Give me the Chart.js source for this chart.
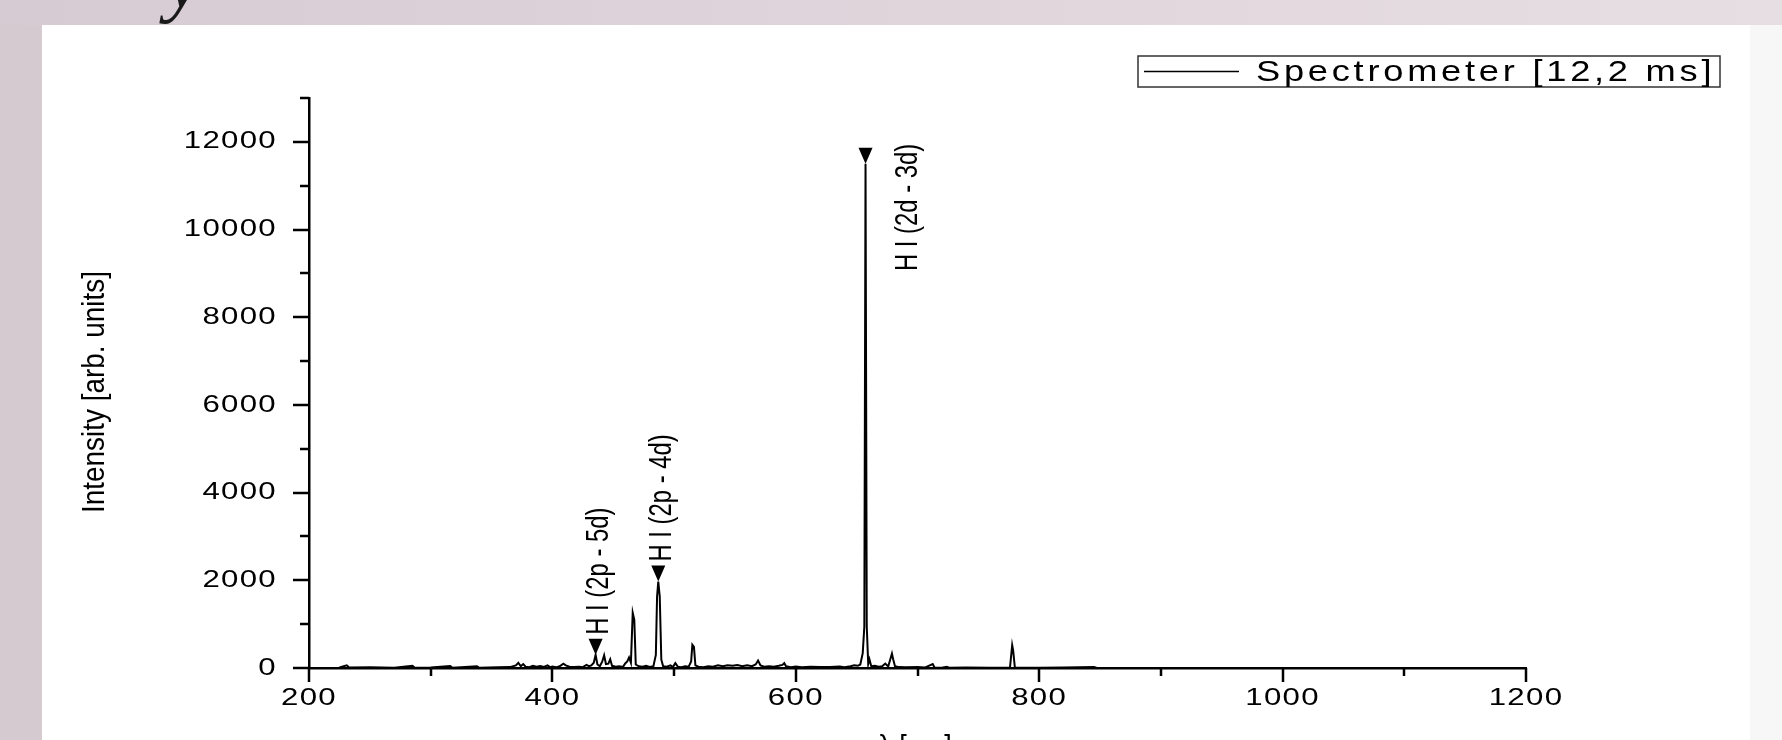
<!DOCTYPE html>
<html>
<head>
<meta charset="utf-8">
<script src="https://cdn.jsdelivr.net/npm/chart.js@4.4.0/dist/chart.umd.min.js"></script>
<style>
html, body { margin: 0; padding: 0; }
body { width: 1782px; height: 740px; overflow: hidden; position: relative;
       background: linear-gradient(to right, #d7cbd3, #e7dee3); }
#left { position: absolute; left: 0; top: 25px; width: 42px; height: 715px; background: #d6cad1; }
#panel { position: absolute; left: 42px; top: 25px; width: 1708px; height: 715px; background: #fff; }
#right { position: absolute; left: 1750px; top: 25px; width: 32px; height: 715px; background: #f7f7f7; }
#glyph { position: absolute; left: 166px; top: -60px; font: italic 80px "Liberation Serif"; line-height: 1; color: #1a1a1a; }
canvas { position: absolute; left: 0; top: 0; }
</style>
</head>
<body>
<div id="left"></div>
<div id="panel"></div>
<div id="right"></div>
<div id="glyph">y</div>
<canvas id="spectrum-Chart" width="1782" height="740"></canvas>
<script>
// spectrum (nm, arb. units)
const wavelengths = [
  225, 231, 233, 250, 270, 285, 287, 300, 316, 318, 338, 340, 355, 365, 370, 372, 374, 376, 378, 381,
  384, 387, 390, 393, 396, 398, 400, 403, 406, 409, 411, 414, 418, 422, 425, 428, 430, 432, 434, 435.5,
  437, 439, 441, 442.5, 444, 446, 447.5, 449, 452, 455, 458, 460, 461.5, 463, 464.5, 466, 467.3, 468.5, 471, 474,
  477, 480, 483, 485, 486, 487, 488.2, 489.5, 491, 494, 497, 499, 501, 503, 506, 509, 512, 514, 515, 516.3,
  517.5, 520, 524, 528, 532, 536, 540, 544, 548, 552, 556, 560, 564, 567, 569, 571, 574, 578, 582, 586,
  589, 590.5, 592, 596, 600, 605, 612, 620, 628, 636, 640, 645, 648, 651, 653, 655, 656.3, 657.3, 658.3, 659.5,
  660.5, 662, 665, 668, 671, 673.5, 675, 676, 679, 680, 681.5, 685, 690, 700, 706, 712.5, 714, 720, 724, 726,
  740, 760, 776, 777.8, 778.6, 780, 800, 820, 845, 847, 850
];
const intensities = [
  10, 60, 10, 15, 5, 50, 5, 10, 45, 5, 40, 5, 15, 20, 60, 120, 40, 90, 30, 20,
  50, 30, 45, 25, 60, 20, 35, 15, 40, 100, 60, 30, 25, 30, 20, 70, 40, 60, 120, 300,
  80, 40, 150, 290, 90, 100, 200, 50, 30, 40, 25, 110, 150, 240, 120, 1260, 1100, 80, 40, 30,
  50, 25, 40, 300, 1630, 1970, 1630, 190, 40, 30, 60, 20, 110, 30, 20, 40, 30, 150, 530, 480,
  60, 30, 20, 40, 30, 60, 40, 60, 50, 70, 40, 60, 40, 80, 170, 60, 30, 40, 30, 50,
  70, 110, 40, 20, 35, 15, 30, 20, 25, 35, 20, 40, 60, 50, 80, 340, 940, 11500, 950, 90,
  200, 40, 50, 30, 40, 100, 60, 40, 330, 200, 40, 20, 15, 20, 10, 90, 10, 5, 30, 5,
  10, 5, 10, 520, 400, 10, 5, 10, 25, 5, 0
];

const xTickLabels = [200, 400, 600, 800, 1000, 1200];
const yTickLabels = [0, 2000, 4000, 6000, 8000, 10000, 12000];

const lineNames = ["H I (2p - 5d)", "H I (2p - 4d)", "H I (2d - 3d)"];
const lineWavelengths = [435.5, 487, 657.3];

const seriesName = "Spectrometer [12,2 ms]";
const xTitle = "\u03bb [nm]";
const yTitle = "Intensity [arb. units]";

const points = wavelengths.map((w, i) => ({ x: w, y: intensities[i] }));

function drawText(ctx, text, x, y, opts) {
  ctx.save();
  ctx.translate(x, y);
  if (opts.rotate) ctx.rotate(opts.rotate);
  ctx.scale(opts.squeeze || 1, 1);
  ctx.font = opts.font;
  ctx.letterSpacing = opts.spacing || "0px";
  ctx.textAlign = opts.align || "left";
  ctx.textBaseline = opts.baseline || "alphabetic";
  ctx.fillStyle = "#000";
  ctx.fillText(text, 0, 0);
  ctx.restore();
}

const tickFont = "24px 'Liberation Sans'";

const decor = {
  id: "decor",
  afterDraw(chart) {
    const ctx = chart.ctx;
    const xs = chart.scales.x, ys = chart.scales.y;
    const area = chart.chartArea;
    ctx.save();
    ctx.strokeStyle = "#000";
    ctx.lineWidth = 2.5;

    // tick marks, long at labelled values, short between
    ctx.beginPath();
    for (let v = 0; v <= 13000; v += 1000) {
      const p = Math.round(ys.getPixelForValue(v));
      const len = yTickLabels.includes(v) ? 16 : 9;
      ctx.moveTo(area.left - len, p);
      ctx.lineTo(area.left, p);
    }
    for (let v = 200; v <= 1200; v += 100) {
      const p = Math.round(xs.getPixelForValue(v));
      const len = xTickLabels.includes(v) ? 14 : 8;
      ctx.moveTo(p, area.bottom);
      ctx.lineTo(p, area.bottom + len);
    }
    ctx.stroke();

    // tick labels (wide face like the original export)
    yTickLabels.forEach(v => {
      drawText(ctx, String(v), area.left - 32, ys.getPixelForValue(v), {
        squeeze: 1.3, font: tickFont, spacing: "1px", align: "right", baseline: "middle"
      });
    });
    xTickLabels.forEach(v => {
      drawText(ctx, String(v), xs.getPixelForValue(v), 705, {
        squeeze: 1.3, font: tickFont, spacing: "1px", align: "center"
      });
    });

    // axis titles
    drawText(ctx, yTitle, 104, 392, { rotate: -Math.PI / 2, squeeze: 0.9, font: "31px 'Liberation Sans'", align: "center" });
    drawText(ctx, xTitle, 915, 733, { squeeze: 0.9, font: "30px 'Liberation Sans'", align: "center", baseline: "top" });

    // line markers
    ctx.fillStyle = "#000";
    lineWavelengths.forEach((w, i) => {
      const px = xs.getPixelForValue(w);
      const py = ys.getPixelForValue(intensities[wavelengths.indexOf(w)]);
      ctx.beginPath();
      ctx.moveTo(px - 7, py - 16);
      ctx.lineTo(px + 7, py - 16);
      ctx.lineTo(px, py);
      ctx.closePath();
      ctx.fill();
      const top = i === 2;
      drawText(ctx, lineNames[i], px + (top ? 43 : 4), py - 20, {
        rotate: -Math.PI / 2, squeeze: 0.77, font: "31px 'Liberation Sans'",
        align: top ? "right" : "left", baseline: "middle"
      });
    });

    // legend box
    ctx.lineWidth = 1.5;
    ctx.strokeStyle = "#333";
    ctx.strokeRect(1138, 56, 582, 31);
    ctx.strokeStyle = "#000";
    ctx.beginPath();
    ctx.moveTo(1144, 71.5);
    ctx.lineTo(1239, 71.5);
    ctx.stroke();
    drawText(ctx, seriesName, 1256, 81, { squeeze: 1.25, font: "29px 'Liberation Sans'", spacing: "3px" });
    ctx.restore();
  }
};

const config = {
  type: "line",
  data: {
    datasets: [{
      label: seriesName,
      data: points,
      borderColor: "#000",
      borderWidth: 2,
      pointRadius: 0,
      tension: 0,
      fill: false
    }]
  },
  options: {
    responsive: false,
    animation: false,
    devicePixelRatio: 1,
    layout: { padding: { left: 0, top: 98, right: 256, bottom: 0 } },
    plugins: { legend: { display: false }, tooltip: { enabled: false } },
    scales: {
      x: {
        type: "linear", min: 200, max: 1200,
        afterFit(s) { s.height = 72; },
        grid: { display: false, drawTicks: false },
        border: { display: true, color: "#000", width: 2.5 },
        ticks: { display: false }
      },
      y: {
        type: "linear", min: 0, max: 13000,
        afterFit(s) { s.width = 309; },
        grid: { display: false, drawTicks: false },
        border: { display: true, color: "#000", width: 2.5 },
        ticks: { display: false }
      }
    }
  },
  plugins: [decor]
};

const myChart = new Chart(document.getElementById("spectrum-Chart"), config);
</script>
</body>
</html>
